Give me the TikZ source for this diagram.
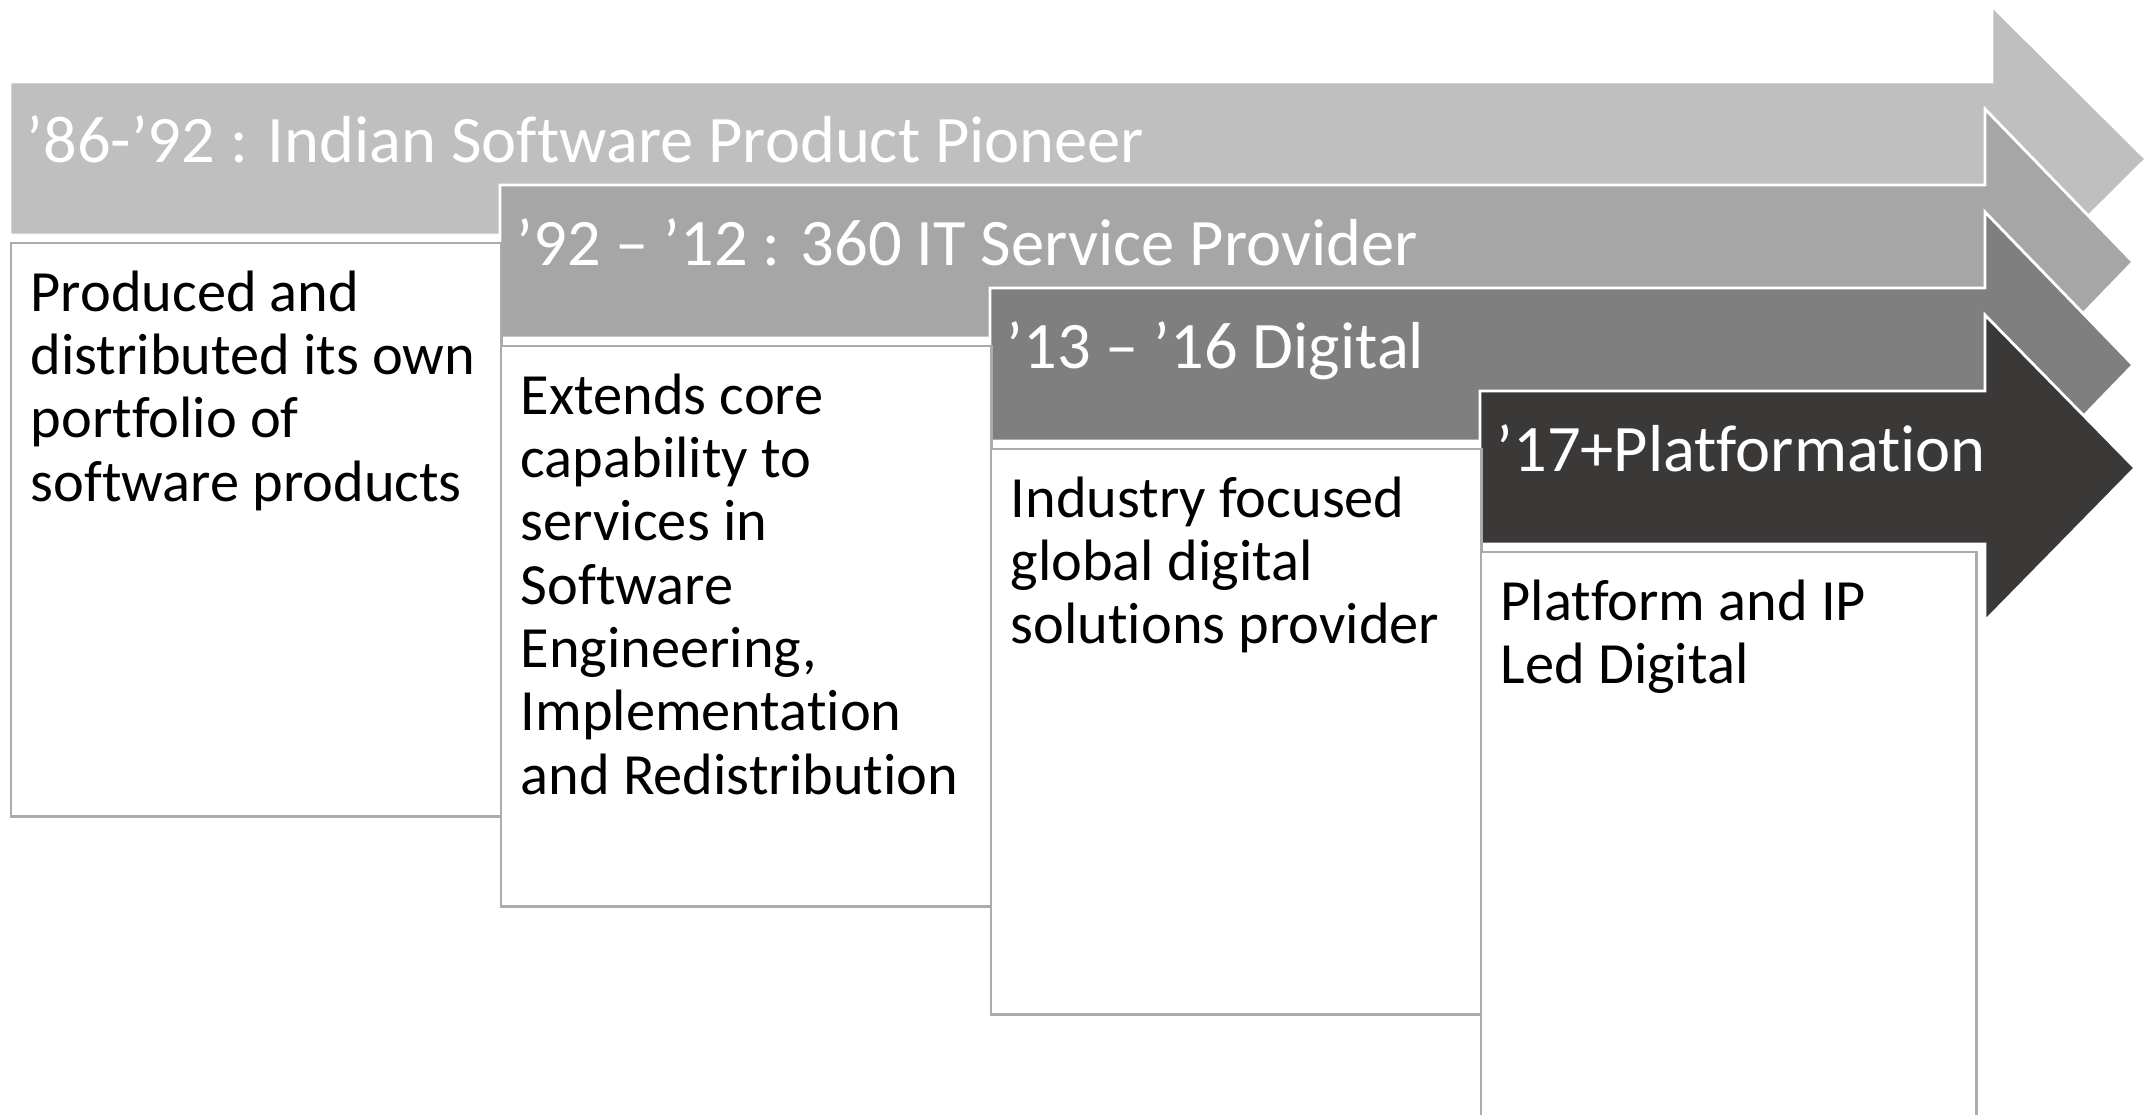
\documentclass[tikz,border=0pt]{standalone}
\usepackage{fontspec}
\setmainfont{Carlito}[Ligatures=NoCommon]

\definecolor{phaseA}{HTML}{BFBFBF}
\definecolor{phaseB}{HTML}{A6A6A6}
\definecolor{phaseC}{HTML}{7F7F7F}
\definecolor{phaseD}{HTML}{3B3838}
\definecolor{boxline}{HTML}{ABABAB}

\begin{document}
\begin{tikzpicture}[
	x=0.01cm,
	y=-0.01cm,
	phase/.style={
		draw=white,
		line width=0.8pt
	},
	title/.style={
		anchor=base west,
		text=white,
		inner sep=0pt,
		font=\fontsize{18.9}{22}\selectfont
	},
	info/.style={
		rectangle,
		draw=boxline,
		fill=white,
		line width=0.7pt,
		anchor=north west
	},
	infotext/.style={
		anchor=north west,
		align=left,
		inner sep=0pt,
		font=\fontsize{16.6}{18}\selectfont
	},
]

\useasboundingbox (0,0) rectangle (2150,1115);

% Phase arrows
\foreach \i/\col/\xr/\xt in {0/phaseA/1992/2146, 1/phaseB/1985/2133, 2/phaseC/1985/2133, 3/phaseD/1985/2135}
	\fill[phase, fill=\col] (10+490*\i, 82+103*\i) -- (\xr, 82+103*\i) -- (\xr, 6+103*\i)
		-- (\xt, 159+103*\i) -- (\xr, 312+103*\i) -- (\xr, 235+103*\i)
		-- (10+490*\i, 235+103*\i) -- cycle;

% Phase titles
\node[title] (title0) at (26, 162) {’86-’92 : Indian Software Product Pioneer};
\node[title] (title1) at (516, 265) {’92 – ’12 : 360 IT Service Provider};
\node[title] (title2) at (1006, 368) {’13 – ’16 Digital};
\node[title] (title3) at (1496, 471) {’17+Platformation};

% Boxes
\foreach \i/\w/\h in {0/4.9/5.73, 1/4.9/5.6, 2/4.9/5.65, 3/4.95/5.7}
	\node[info, minimum width=\w cm, minimum height=\h cm] (box\i) at (10+490*\i, 242+103*\i) {};

% Box texts
\node[infotext] (text0) at ([shift={(20,28)}]box0.north west)
	{Produced and\\distributed its own\\portfolio of\\software products};
\node[infotext] (text1) at ([shift={(20,28)}]box1.north west)
	{Extends core\\capability to\\services in\\Software\\Engineering,\\Implementation\\and Redistribution};
\node[infotext] (text2) at ([shift={(20,28)}]box2.north west)
	{Industry focused\\global digital\\solutions provider};
\node[infotext] (text3) at ([shift={(20,28)}]box3.north west)
	{Platform and IP\\Led Digital};

\end{tikzpicture}
\end{document}
